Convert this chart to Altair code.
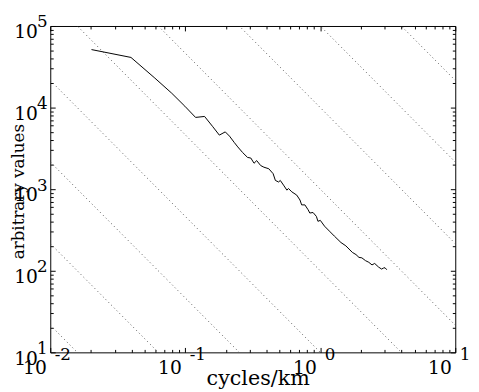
import altair as alt
import pandas as pd

# spectrum (cycles/km, arbitrary values)
freq = [0.0202, 0.0396, 0.0595, 0.0794, 0.0993, 0.1192, 0.139, 0.159, 0.1788, 0.1978,
        0.2126, 0.2311, 0.2447, 0.2661, 0.2893, 0.3058, 0.3232, 0.3382, 0.3617, 0.3823,
        0.4157, 0.4474, 0.465, 0.4913, 0.5056, 0.5346, 0.5659, 0.5813, 0.6153, 0.6689,
        0.7075, 0.7278, 0.7691, 0.8128, 0.8364, 0.884, 0.9359, 0.9612, 1.0007, 1.0755,
        1.1695, 1.2719, 1.4232, 1.5475, 1.7288, 1.839, 1.9341, 2.033, 2.1642, 2.288,
        2.4164, 2.529, 2.7045, 2.844, 2.9412, 3.017, 3.1081]
power = [51400, 41200, 23000, 15000, 10400, 7580, 7790, 5900, 4600, 5040,
         4470, 3720, 3300, 2810, 2450, 2410, 2080, 2240, 1950, 1860,
         1780, 1550, 1280, 1225, 1280, 1120, 973, 1020, 928, 847,
         737, 642, 642, 559, 510, 518, 464, 404, 415, 352,
         306, 266, 222, 202, 168, 158, 146, 144, 133, 127,
         118, 123, 111, 105, 108, 109, 103]

# -5/3 reference lines: amplitude exponents and x end points
ref_exponents = [-2, -1, 0, 1, 2, 3, 4, 5, 6]
ref_x = [0.01, 10]

x_decades = [0.01, 0.1, 1, 10]
y_decades = [10, 100, 1000, 10000, 100000]
x_minor = [0.02, 0.03, 0.04, 0.05, 0.06, 0.07, 0.08, 0.09,
           0.2, 0.3, 0.4, 0.5, 0.6, 0.7, 0.8, 0.9,
           2, 3, 4, 5, 6, 7, 8, 9]
y_minor = [20, 30, 40, 50, 60, 70, 80, 90,
           200, 300, 400, 500, 600, 700, 800, 900,
           2000, 3000, 4000, 5000, 6000, 7000, 8000, 9000,
           20000, 30000, 40000, 50000, 60000, 70000, 80000, 90000]

spec = pd.DataFrame({"f": freq, "p": power})
ref = pd.DataFrame([{"k": k, "f": x} for k in ref_exponents for x in ref_x])

FONT = "DejaVu Serif"
W, H = 412, 332
xscale = alt.Scale(type="log", domain=[0.01, 10], nice=False)
yscale = alt.Scale(type="log", domain=[10, 100000], nice=False)

common = dict(grid=False, labelFont=FONT, labelColor="black", domainColor="black",
              domainWidth=1, tickColor="black", tickWidth=1, labelFlush=False,
              labelOverlap=False, labelBound=False)


def ax(**kw):
    d = dict(common)
    if "title" not in kw:
        d["title"] = None
    d.update(kw)
    return alt.Axis(**d)


ref_base = alt.Chart(ref).transform_calculate(
    p="pow(10, datum.k) * pow(datum.f, -5/3)"
)

dots = ref_base.mark_line(clip=True, color="#555555", strokeWidth=1,
                          strokeDash=[1, 3]).encode(
    x=alt.X("f:Q", scale=xscale, axis=ax(
        orient="bottom", values=x_decades, labelExpr="'10'", ticks=False, tickSize=0,
        labelAlign="right", labelOffset=-4, labelBaseline="middle", labelPadding=16,
        labelFontSize=19, title="cycles/km", titleFont=FONT, titleFontSize=21,
        titleFontWeight="normal", titleColor="black", titleX=211, titleY=33,
        titleAlign="center", titleBaseline="alphabetic")),
    y=alt.Y("p:Q", scale=yscale, axis=ax(
        orient="left", values=y_decades, labelExpr="'10'", ticks=False, tickSize=0,
        labelAlign="right", labelBaseline="middle", labelPadding=13, labelOffset=6,
        labelFontSize=19, title="arbitrary values", titleFont=FONT, titleFontSize=17,
        titleFontWeight="normal", titleColor="black", titleAngle=270, titleX=-27,
        titleY=168, titleAlign="center", titleBaseline="alphabetic")),
    detail="k:N",
)

line = alt.Chart(spec).mark_line(color="black", strokeWidth=1, clip=True).encode(
    x=alt.X("f:Q", scale=xscale, axis=ax(orient="top", values=x_decades, ticks=False,
                                         tickSize=0, labels=False)),
    y=alt.Y("p:Q", scale=yscale, axis=ax(orient="right", values=y_decades, ticks=False,
                                         tickSize=0, labels=False)),
)

EXP = "'' + round(log(datum.value) / LN10)"
exps = ref_base.mark_line(opacity=0, clip=True).encode(
    x=alt.X("f:Q", scale=xscale, axis=ax(
        orient="bottom", values=x_decades, labelExpr=EXP, ticks=False, tickSize=0,
        domain=False, labelAlign="left", labelOffset=4, labelBaseline="middle",
        labelPadding=2, labelFontSize=17)),
    y=alt.Y("p:Q", scale=yscale, axis=ax(
        orient="left", values=y_decades, labelExpr=EXP, ticks=False, tickSize=0,
        domain=False, labelAlign="left", labelBaseline="middle", labelPadding=14,
        labelOffset=-4, labelFontSize=17)),
    detail="k:N",
)


def tick_layer(xorient, yorient, xvals, yvals, size):
    return ref_base.mark_line(opacity=0, clip=True).encode(
        x=alt.X("f:Q", scale=xscale, axis=ax(
            orient=xorient, offset=-H, values=xvals, labels=False, domain=False,
            ticks=True, tickSize=size)),
        y=alt.Y("p:Q", scale=yscale, axis=ax(
            orient=yorient, offset=-W, values=yvals, labels=False, domain=False,
            ticks=True, tickSize=size)),
        detail="k:N",
    )


layers = [
    dots, line, exps,
    tick_layer("top", "right", x_decades, y_decades, 5),
    tick_layer("top", "right", x_minor, y_minor, 3),
    tick_layer("bottom", "left", x_decades, y_decades, 5),
    tick_layer("bottom", "left", x_minor, y_minor, 3),
]

chart = alt.layer(*layers).resolve_axis(x="independent", y="independent").properties(
    width=W, height=H,
    autosize=alt.AutoSizeParams(type="none"),
    padding={"left": 43, "top": 15, "right": 16, "bottom": 37},
).configure_view(strokeWidth=0)

chart.save("out.html", embed_options={"renderer": "svg", "actions": False})
